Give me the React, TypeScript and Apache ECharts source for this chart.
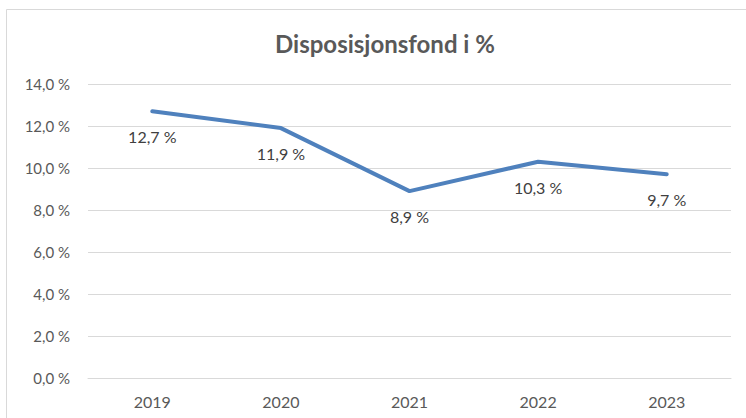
import React, { useEffect, useRef } from "react";
import * as echarts from "echarts";

const categories = ["2019", "2020", "2021", "2022", "2023"];
const values = [12.7, 11.9, 8.9, 10.3, 9.7];
const titleText = "Disposisjonsfond i %";

const fmt = (v: number) => v.toFixed(1).replace(".", ",") + " %";

export default function App() {
  const ref = useRef<HTMLDivElement>(null);
  useEffect(() => {
    if (!ref.current) return;
    const chart = echarts.init(ref.current, undefined, { renderer: "svg" });
    chart.setOption({
      animation: false,
      backgroundColor: "#ffffff",
      textStyle: { fontFamily: "Lato" },
      title: {
        text: titleText,
        left: 380,
        textAlign: "center",
        top: 26,
        textStyle: { fontFamily: "Lato", fontWeight: "bold", fontSize: 24, color: "#595959" },
      },
      graphic: [
        {
          type: "rect",
          shape: { x: 6.5, y: 9.5, width: 800, height: 500 },
          style: { fill: "none", stroke: "#d9d9d9", lineWidth: 1 },
          silent: true,
        },
      ],
      grid: { left: 88, right: 15, top: 84, bottom: 40 },
      xAxis: {
        type: "category",
        data: categories,
        boundaryGap: true,
        axisLine: { show: true, lineStyle: { color: "#d9d9d9", width: 1 } },
        axisTick: { show: false },
        axisLabel: { color: "#595959", fontSize: 16, margin: 15 },
      },
      yAxis: {
        type: "value",
        min: 0,
        max: 14,
        interval: 2,
        axisLine: { show: false },
        axisTick: { show: false },
        splitLine: { lineStyle: { color: "#d9d9d9", width: 1 } },
        axisLabel: { color: "#595959", fontSize: 15, margin: 18, formatter: (v: number) => fmt(v) },
      },
      series: [
        {
          type: "line",
          data: values,
          symbol: "circle",
          symbolSize: 1,
          itemStyle: { color: "rgba(0,0,0,0)" },
          lineStyle: { color: "#4F81BD", width: 4, cap: "round", join: "round" },
          label: {
            show: true,
            position: "bottom",
            distance: 17,
            color: "#404040",
            fontSize: 16,
            formatter: (p: any) => fmt(p.value),
          },
        },
      ],
    });
    return () => chart.dispose();
  }, []);
  return (
    <div
      ref={ref}
      style={{ position: "fixed", left: 0, top: 0, width: 746, height: 418 }}
    />
  );
}
